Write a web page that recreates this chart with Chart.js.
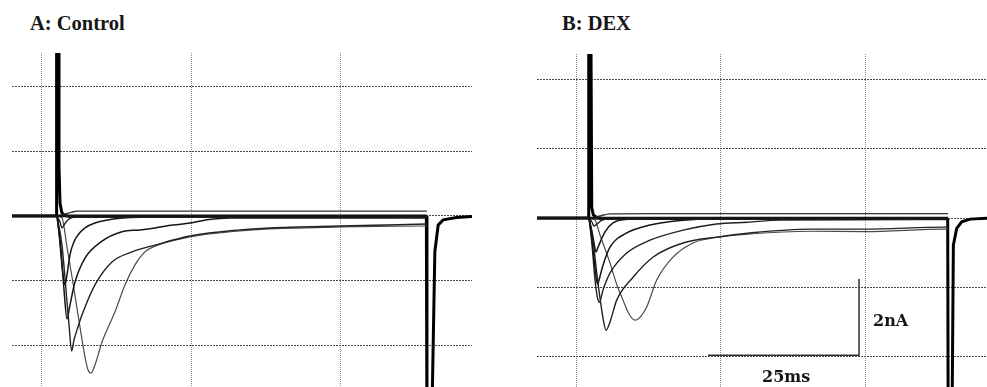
<!DOCTYPE html>
<html><head><meta charset="utf-8">
<script src="https://cdn.jsdelivr.net/npm/chart.js@4"></script>
<style>
html,body{margin:0;padding:0;background:#fff;}
#page{position:relative;width:987px;height:387px;overflow:hidden;background:#fff;}
canvas{position:absolute;}
.lbl{position:absolute;font-weight:bold;white-space:nowrap;color:#161616;}
.title{font-family:"Liberation Serif","Times New Roman",serif;font-size:20.5px;line-height:20px;}
.scl{font-family:"DejaVu Serif",serif;font-size:16px;line-height:16px;}
</style></head><body>
<div id="page">
<div class="lbl title" style="left:30px;top:13px">A: Control</div>
<div class="lbl title" style="left:562px;top:13px">B: DEX</div>
<canvas id="cA" width="460" height="334" style="left:12px;top:53px;width:460px;height:334px"></canvas>
<canvas id="cB" width="450" height="333" style="left:537px;top:54px;width:450px;height:333px"></canvas>
<div class="lbl scl" style="left:873px;top:313px">2nA</div>
<div class="lbl scl" style="left:762px;top:369px">25ms</div>
</div>
<script>
// ---- grid / tick values (ms, nA) ----
const gridMs = [0, 25, 50];
const gridNA = [-4, -2, 0, 2, 4];

// ---- A: Control traces, [time ms, current nA] ----
const ctrlBaseline = [[-5.03,0],[64.53,0]];
const ctrlBaseline2 = [[4.3,-0.04],[64.53,-0.04]];
const ctrlOnSpike = [[-5.03,0],[2.35,0],[2.45,6.5],[2.75,6.5],[2.85,1.5],[3.02,0.4],[3.3,0.12],[3.7,0.02],[4.3,0]];
const ctrlOffSpike = [[64.45,0],[64.55,-7],[65.3,-7],[65.87,-1.1],[66.43,-0.28],[67.27,-0.12],[69.5,-0.05],[72.1,-0.02]];
const ctrlOutward = [[2.51,0],[3.86,0.06],[5.03,0.12],[5.87,0.15],[26.48,0.15],[64.53,0.15]];
const ctrlT0 = [[2.51,0],[3.02,-0.19],[3.35,-0.37],[3.69,-0.28],[4.36,-0.12],[5.53,-0.03],[7.21,0]];
const ctrlT1 = [[2.51,0],[2.85,-0.49],[3.18,-1.2],[3.52,-1.82],[3.86,-2.13],[4.19,-1.82],[4.69,-1.2],[5.36,-0.8],[6.03,-0.59],[7.21,-0.37],[8.88,-0.22],[12.24,-0.09],[18.1,-0.03],[64.53,-0.03]];
const ctrlT2 = [[2.51,0],[3.18,-1.05],[3.69,-2.28],[4.19,-3.18],[4.69,-2.75],[5.53,-2.04],[7.21,-1.3],[9.89,-0.8],[13.41,-0.49],[16.43,-0.43],[18.94,-0.37],[21.96,-0.28],[24.81,-0.22],[27.66,-0.12],[31.51,-0.06],[64.53,-0.06]];
const ctrlT3 = [[2.51,0],[3.35,-0.9],[4.02,-2.28],[4.53,-3.36],[4.98,-4.17],[5.36,-3.83],[6.03,-3.43],[6.7,-3.06],[8.88,-2.13],[11.73,-1.42],[15.09,-1.11],[18.94,-0.9],[24.81,-0.62],[33.19,-0.43],[38.22,-0.37],[49.95,-0.31],[64.53,-0.25]];
const ctrlT4 = [[2.51,0],[3.35,-0.06],[4.19,-0.96],[5.2,-2.07],[6.37,-3.43],[7.21,-4.35],[7.71,-4.75],[8.21,-4.85],[8.88,-4.6],[10.06,-3.89],[12.24,-2.96],[13.91,-2.13],[15.59,-1.51],[17.26,-1.11],[18.94,-0.93],[24.81,-0.65],[33.19,-0.46],[38.22,-0.4],[49.95,-0.34],[64.53,-0.31]];

// ---- B: DEX traces, [time ms, current nA] ----
const dexBaseline = [[-6.75,0],[64.36,0]];
const dexBaseline2 = [[4.0,-0.04],[64.36,-0.04]];
const dexOnSpike = [[-6.75,0],[2.1,0],[2.2,6.5],[2.55,6.5],[2.72,0.3],[3.0,0.09],[3.6,0.01],[4.2,0]];
const dexOffSpike = [[64.3,0],[64.4,-7],[65.0,-7],[65.28,-0.78],[65.86,-0.3],[66.73,-0.11],[68.17,-0.03],[71.3,0]];
const dexOutward = [[2.77,0],[4.15,0.06],[5.88,0.12],[12.8,0.13],[64.36,0.13]];
const dexT0 = [[2.25,0],[2.77,-0.12],[3.11,-0.23],[3.63,-0.17],[4.5,-0.06],[6.23,0]];
const dexT1 = [[2.25,0],[2.77,-0.4],[3.11,-0.72],[3.46,-0.98],[3.81,-0.84],[5.02,-0.4],[6.4,-0.14],[9.34,-0.03],[14.5,-0.01],[64.36,-0.01]];
const dexT2 = [[2.25,0],[2.77,-0.64],[3.29,-1.45],[3.72,-1.91],[4.15,-1.68],[4.67,-1.36],[5.88,-0.84],[8.77,-0.43],[12.8,-0.2],[18.5,-0.06],[24.9,-0.01],[64.36,-0.01]];
const dexT3 = [[2.25,0],[2.77,-0.78],[3.29,-1.79],[3.72,-2.31],[4.07,-2.43],[4.67,-2.08],[5.88,-1.59],[8.77,-1.01],[12.8,-0.64],[18.5,-0.35],[24.3,-0.17],[29.6,-0.12],[35.3,-0.06],[64.36,-0.04]];
const dexT4 = [[2.25,0],[2.94,-0.64],[3.63,-1.65],[4.15,-2.31],[4.67,-2.89],[5.19,-3.24],[5.88,-3.0],[7.04,-2.37],[9.86,-1.71],[13.3,-1.13],[18.5,-0.72],[24.3,-0.55],[30.1,-0.43],[40.5,-0.32],[50,-0.32],[63.8,-0.26],[64.36,-0.26]];
const dexT5 = [[2.25,0],[3.29,-0.06],[4.15,-0.49],[5.88,-1.3],[7.09,-1.94],[8.13,-2.37],[9.17,-2.77],[10.2,-2.95],[11.25,-2.83],[12.23,-2.57],[13.96,-1.79],[16.78,-1.13],[20.24,-0.72],[24.34,-0.56],[30.1,-0.46],[40.5,-0.38],[50,-0.39],[63.84,-0.32],[64.36,-0.32]];
const dexScaleBar = [[22.84,-3.96],[48.96,-3.96],[48.96,-1.76]];

function ds(points, color, width, smooth) {
  return {
    data: points.map(p => ({x: p[0], y: p[1]})),
    showLine: true, borderColor: color, borderWidth: width,
    pointRadius: 0, fill: false,
    cubicInterpolationMode: smooth ? 'monotone' : 'default', tension: 0
  };
}
function opts(xmin, xmax, ymin, ymax) {
  const setTicks = vals => (scale) => { scale.ticks = vals.map(v => ({value: v})); };
  return {
    responsive: false, animation: false, devicePixelRatio: 1,
    layout: {padding: 0},
    plugins: {legend: {display: false}, tooltip: {enabled: false}, title: {display: false}},
    scales: {
      x: {type: 'linear', min: xmin, max: xmax, afterBuildTicks: setTicks(gridMs),
          ticks: {display: false}, grid: {color: '#8a8a8a', lineWidth: 1, drawTicks: false, tickLength: 0},
          border: {display: false, dash: [1, 1]}},
      y: {type: 'linear', min: ymin, max: ymax, afterBuildTicks: setTicks(gridNA),
          ticks: {display: false}, grid: {color: '#4a4a4a', lineWidth: 1, drawTicks: false, tickLength: 0},
          border: {display: false, dash: [2, 1]}}
    }
  };
}
const ink = '#151515', grey = '#4a4a4a';
new Chart(document.getElementById('cA'), {
  type: 'scatter',
  data: {datasets: [
    ds(ctrlBaseline, ink, 2.8, false),
    ds(ctrlBaseline2, '#222', 1.3, false),
    ds(ctrlOutward, '#333', 1.4, true),
    ds(ctrlT0, ink, 1.3, true),
    ds(ctrlT1, ink, 1.5, true),
    ds(ctrlT2, ink, 1.5, true),
    ds(ctrlT3, '#222', 1.4, true),
    ds(ctrlT4, grey, 1.2, true),
    ds(ctrlOnSpike, '#000', 3, false),
    ds(ctrlOffSpike, '#000', 3, false)
  ]},
  options: opts(-5.03, 72.1, -5.28, 5.03)
});
new Chart(document.getElementById('cB'), {
  type: 'scatter',
  data: {datasets: [
    ds(dexBaseline, ink, 2.8, false),
    ds(dexBaseline2, '#222', 1.3, false),
    ds(dexOutward, '#333', 1.4, true),
    ds(dexT0, ink, 1.3, true),
    ds(dexT1, ink, 1.5, true),
    ds(dexT2, ink, 1.5, true),
    ds(dexT3, '#222', 1.4, true),
    ds(dexT4, '#222', 1.4, true),
    ds(dexT5, grey, 1.2, true),
    ds(dexOnSpike, '#000', 3, false),
    ds(dexOffSpike, '#000', 3, false),
    ds(dexScaleBar, '#333', 1.5, false)
  ]},
  options: opts(-6.75, 71.1, -4.88, 4.74)
});
</script>
</body></html>
